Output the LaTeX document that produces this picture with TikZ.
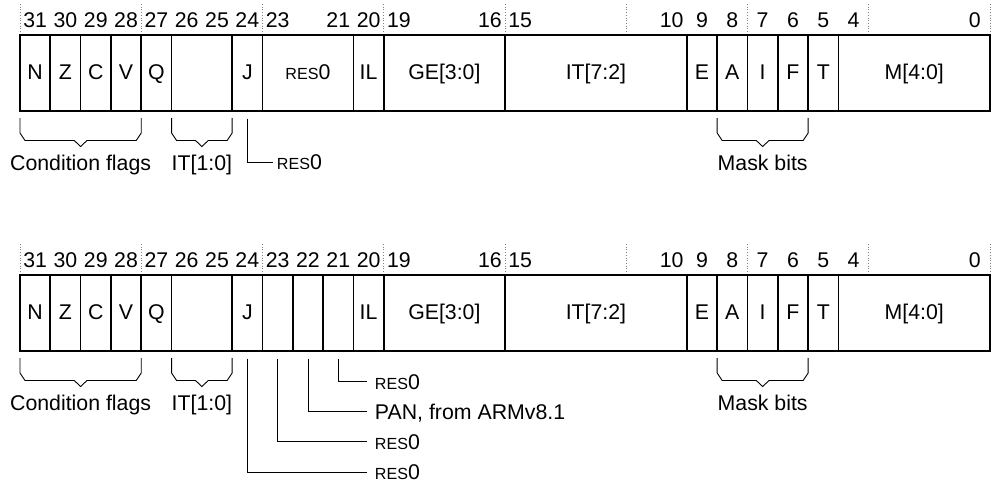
\documentclass[tikz,border=0pt]{standalone}
\usepackage{fontspec}
\setmainfont{Liberation Sans}
\newcommand\rz{{\fontsize{16.1}{19}\selectfont RES}0}
\newcommand\fldbox[5]{\node[fld, minimum width={#3*30.3125pt}] (#1) at ({#2+#3/2},{#4+73}) {#5};}
\newcommand\fbrace[3]{%
  \draw[brk] (#1,{#3+118}) -- (#1,{#3+133}) -- ({#1+0.165},{#3+140.5})
    -- ({(#1+#2)/2-0.21},{#3+140.5}) -- ({(#1+#2)/2},{#3+146.5})
    -- ({(#1+#2)/2+0.21},{#3+140.5}) -- ({#2-0.165},{#3+140.5})
    -- (#2,{#3+133}) -- (#2,{#3+118});}
\begin{document}
\begin{tikzpicture}[x=30.3125pt,y=-1pt,
  fld/.style={draw, line width=1.7pt, minimum height=76pt, inner sep=0pt, outer sep=0pt,
    font=\fontsize{21.3}{25}\selectfont, text height=15.25pt, text depth=2.65pt},
  num/.style={font=\fontsize{21.3}{25}\selectfont, anchor=base, inner sep=0pt},
  lbl/.style={font=\fontsize{21.3}{25}\selectfont, anchor=base, inner sep=0pt},
  tag/.style={font=\fontsize{21.3}{25}\selectfont, anchor=west, inner sep=0pt, outer sep=0pt,
    text height=15.25pt, text depth=0pt},
  brk/.style={line width=0.9pt, line join=miter},
  ldr/.style={line width=0.9pt},
  tick/.style={gray, dotted, line width=0.7pt}]
\useasboundingbox (-0.65979,0) rectangle (32.0990,483);

% ---------- top register ----------
\foreach \k in {0,4,...,32} \draw[tick] (\k,4) -- (\k,35);
\foreach \b in {31,30,29,28,27,26,25,24,23,21,20,19,16,15,10,9,8,7,6,5,4,0}
  \node[num] (ta\b) at ({31.5-\b},27.3) {\b};
\fldbox{aN}{0}{1}{0}{N}
\fldbox{aZ}{1}{1}{0}{Z}
\fldbox{aC}{2}{1}{0}{C}
\fldbox{aV}{3}{1}{0}{V}
\fldbox{aQ}{4}{1}{0}{Q}
\fldbox{aIT}{5}{2}{0}{}
\fldbox{aJ}{7}{1}{0}{J}
\fldbox{aR}{8}{3}{0}{\rz}
\fldbox{aIL}{11}{1}{0}{IL}
\fldbox{aGE}{12}{4}{0}{GE[3:0]}
\fldbox{aITh}{16}{6}{0}{IT[7:2]}
\fldbox{aE}{22}{1}{0}{E}
\fldbox{aA}{23}{1}{0}{A}
\fldbox{aI}{24}{1}{0}{I}
\fldbox{aF}{25}{1}{0}{F}
\fldbox{aT}{26}{1}{0}{T}
\fldbox{aM}{27}{5}{0}{M[4:0]}
\fbrace{0}{4}{0}
\fbrace{5}{7}{0}
\fbrace{23}{26}{0}
\node[lbl] (acf) at (2,170.5) {Condition flags};
\node[lbl] (ait) at (6,170.5) {IT[1:0]};
\node[lbl] (amb) at (24.5,170.5) {Mask bits};
\node[tag] (aJr) at (8.478,162) {\rz};
\draw[ldr] ([yshift=-7.5pt]aJ.south) |- ([xshift=-3.7pt]aJr.west);

% ---------- bottom register ----------
\foreach \k in {0,4,...,32} \draw[tick] (\k,244) -- (\k,275);
\foreach \b in {31,30,29,28,27,26,25,24,23,22,21,20,19,16,15,10,9,8,7,6,5,4,0}
  \node[num] (tb\b) at ({31.5-\b},267.3) {\b};
\fldbox{bN}{0}{1}{240}{N}
\fldbox{bZ}{1}{1}{240}{Z}
\fldbox{bC}{2}{1}{240}{C}
\fldbox{bV}{3}{1}{240}{V}
\fldbox{bQ}{4}{1}{240}{Q}
\fldbox{bIT}{5}{2}{240}{}
\fldbox{bJ}{7}{1}{240}{J}
\fldbox{b23}{8}{1}{240}{}
\fldbox{b22}{9}{1}{240}{}
\fldbox{b21}{10}{1}{240}{}
\fldbox{bIL}{11}{1}{240}{IL}
\fldbox{bGE}{12}{4}{240}{GE[3:0]}
\fldbox{bITh}{16}{6}{240}{IT[7:2]}
\fldbox{bE}{22}{1}{240}{E}
\fldbox{bA}{23}{1}{240}{A}
\fldbox{bI}{24}{1}{240}{I}
\fldbox{bF}{25}{1}{240}{F}
\fldbox{bT}{26}{1}{240}{T}
\fldbox{bM}{27}{5}{240}{M[4:0]}
\fbrace{0}{4}{240}
\fbrace{5}{7}{240}
\fbrace{23}{26}{240}
\node[lbl] (bcf) at (2,410.5) {Condition flags};
\node[lbl] (bit) at (6,410.5) {IT[1:0]};
\node[lbl] (bmb) at (24.5,410.5) {Mask bits};
\node[tag] (b21r) at (11.711,381.7) {\rz};
\node[tag] (b22r) at (11.711,411.7) {PAN, from ARMv8.1};
\node[tag] (b23r) at (11.711,441.9) {\rz};
\node[tag] (bJr)  at (11.711,472) {\rz};
\draw[ldr] ([yshift=-7.5pt]b21.south) |- ([xshift=-8pt]b21r.west);
\draw[ldr] ([yshift=-7.5pt]b22.south) |- ([xshift=-8pt]b22r.west);
\draw[ldr] ([yshift=-7.5pt]b23.south) |- ([xshift=-8pt]b23r.west);
\draw[ldr] ([yshift=-7.5pt]bJ.south)  |- ([xshift=-8pt]bJr.west);
\end{tikzpicture}
\end{document}
